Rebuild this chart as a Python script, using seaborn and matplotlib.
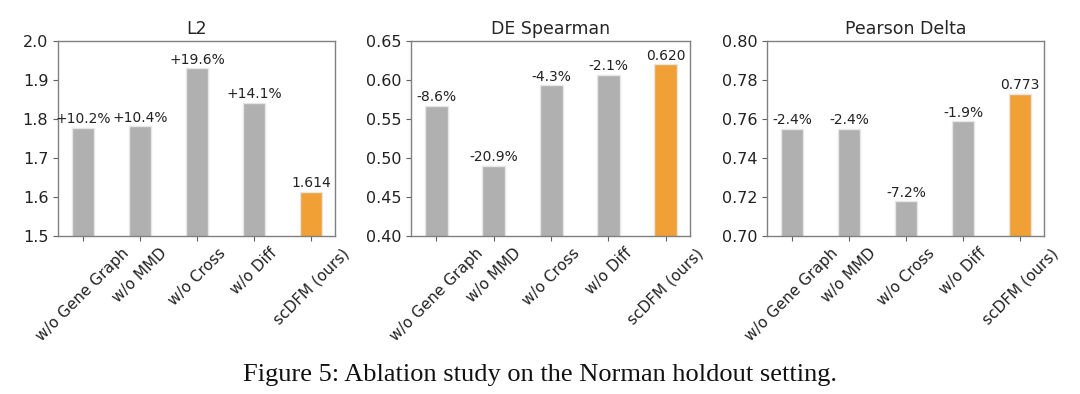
import matplotlib
matplotlib.use("Agg")
import matplotlib.pyplot as plt
import seaborn as sns
import pandas as pd

methods = ["w/o Gene Graph", "w/o MMD", "w/o Cross", "w/o Diff", "scDFM (ours)"]
l2_values = [1.778, 1.782, 1.931, 1.842, 1.614]
l2_labels = ["+10.2%", "+10.4%", "+19.6%", "+14.1%", "1.614"]
de_values = [0.567, 0.490, 0.593, 0.607, 0.620]
de_labels = ["-8.6%", "-20.9%", "-4.3%", "-2.1%", "0.620"]
pd_values = [0.755, 0.755, 0.718, 0.759, 0.773]
pd_labels = ["-2.4%", "-2.4%", "-7.2%", "-1.9%", "0.773"]

titles = ["L2", "DE Spearman", "Pearson Delta"]
ylims = [(1.5, 2.0), (0.40, 0.65), (0.70, 0.80)]
yticks = [[1.5, 1.6, 1.7, 1.8, 1.9, 2.0],
          [0.40, 0.45, 0.50, 0.55, 0.60, 0.65],
          [0.70, 0.72, 0.74, 0.76, 0.78, 0.80]]
ytick_fmt = ["{:.1f}", "{:.2f}", "{:.2f}"]
caption = "Figure 5: Ablation study on the Norman holdout setting."

sns.set_style("white")
plt.rcParams["font.family"] = ["DejaVu Sans"]

colors = ["#b0b0b0"] * 4 + ["#f0a035"]

fig = plt.figure(figsize=(10.8, 3.94), dpi=100)
positions = [
    [58 / 1080, 1 - 236 / 394, 277 / 1080, 195 / 394],
    [411 / 1080, 1 - 236 / 394, 279 / 1080, 195 / 394],
    [767 / 1080, 1 - 236 / 394, 277 / 1080, 195 / 394],
]
all_vals = [l2_values, de_values, pd_values]
all_labels = [l2_labels, de_labels, pd_labels]

for i in range(3):
    ax = fig.add_axes(positions[i])
    df = pd.DataFrame({"method": methods, "value": all_vals[i]})
    sns.barplot(data=df, x="method", y="value", hue="method", palette=colors,
                legend=False, width=0.4, saturation=1, ax=ax,
                edgecolor="#e6e6e6", linewidth=1)
    for cont, lab in zip(ax.containers, all_labels[i]):
        ax.bar_label(cont, labels=[lab], padding=1, fontsize=10, color="#222222")
    ax.set_ylim(*ylims[i])
    ax.set_yticks(yticks[i])
    ax.set_yticklabels([ytick_fmt[i].format(t) for t in yticks[i]], fontsize=11.5)
    ax.set_xlim(-0.44, 4.42)
    ax.set_xticks(range(len(methods)))
    ax.set_xticklabels(methods, rotation=45, ha="center", fontsize=11)
    ax.set_xlabel("")
    ax.set_ylabel("")
    ax.set_title(titles[i], fontsize=12.5, pad=5)
    for s in ax.spines.values():
        s.set_color("#808080")
        s.set_linewidth(1.0)
    ax.tick_params(axis="both", which="both", direction="out", length=3.5,
                   color="#606060", labelcolor="#222222", bottom=True, left=True)

fig.text(0.5, 1 - 375 / 394, caption, ha="center", va="center",
         fontsize=19, family=["Liberation Serif"], color="#111111")

fig.savefig("out.png", dpi=100)
